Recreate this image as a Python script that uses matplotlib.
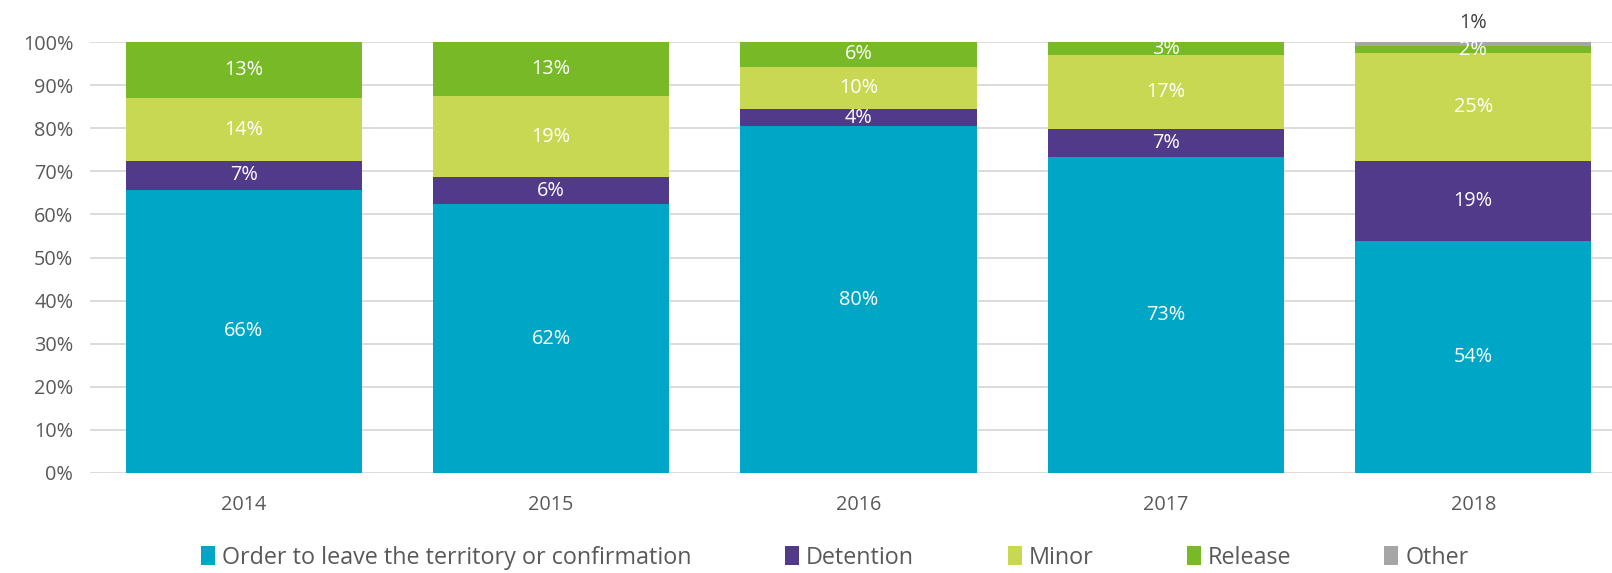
import matplotlib
matplotlib.use('Agg')
import matplotlib.pyplot as plt
import numpy as np

# values (share of decisions, %)
years = ["2014", "2015", "2016", "2017", "2018"]
order_leave = [65.7, 62.4, 80.4, 73.3, 53.8]
detention = [6.7, 6.2, 4.0, 6.6, 18.6]
minor = [14.5, 18.8, 9.9, 17.0, 25.0]
release = [13.1, 12.6, 5.7, 3.1, 1.6]
other = [0.0, 0.0, 0.0, 0.0, 1.0]

series = [
    ("Order to leave the territory or confirmation", order_leave, "#00A6C5"),
    ("Detention", detention, "#523A8B"),
    ("Minor", minor, "#C8D852"),
    ("Release", release, "#78B928"),
    ("Other", other, "#A6A6A6"),
]

plt.rcParams['font.family'] = ['Open Sans', 'DejaVu Sans']

fig = plt.figure(figsize=(16.12, 5.73), dpi=100)
# plot area runs a bit past the right edge of the image, like the original
ax = fig.add_axes([90 / 1612, 1 - 473 / 573, 1537 / 1612, 431 / 573])

x = np.arange(len(years))
bottom = np.zeros(len(years))
for name, vals, color in series:
    vals = np.array(vals)
    ax.bar(x, vals, 0.769, bottom=bottom, color=color, label=name, zorder=2)
    for i, v in enumerate(vals):
        if v <= 0:
            continue
        if name == "Other":
            # small slice: label sits above the bar in dark grey
            ax.text(x[i], 104.3, f"{v:.0f}%", ha='center', va='center',
                    color='#404040', fontsize=14.3)
        else:
            ax.text(x[i], bottom[i] + v / 2, f"{v:.0f}%", ha='center', va='center',
                    color='white', fontsize=14.3)
    bottom += vals

ax.set_xlim(-0.5, len(years) - 0.5)
ax.set_ylim(0, 100)
ax.set_yticks(range(0, 101, 10))
ax.set_yticklabels([f"{t}%" for t in range(0, 101, 10)])
ax.set_xticks(x)
ax.set_xticklabels(years)
ax.tick_params(axis='both', length=0, labelsize=14.3, colors='#595959')
ax.tick_params(axis='x', pad=16)
ax.tick_params(axis='y', pad=12)
ax.grid(axis='y', color='#D9D9D9', linewidth=1.3, zorder=0)
for s in ax.spines.values():
    s.set_visible(False)

leg = fig.legend(loc='center', bbox_to_anchor=(0.518, 0.027), ncol=5, frameon=False,
                 fontsize=16.8, handlelength=0.6, handleheight=0.9, handletextpad=0.3,
                 columnspacing=4.0, labelcolor='#595959')

fig.savefig("out.png", dpi=100)
